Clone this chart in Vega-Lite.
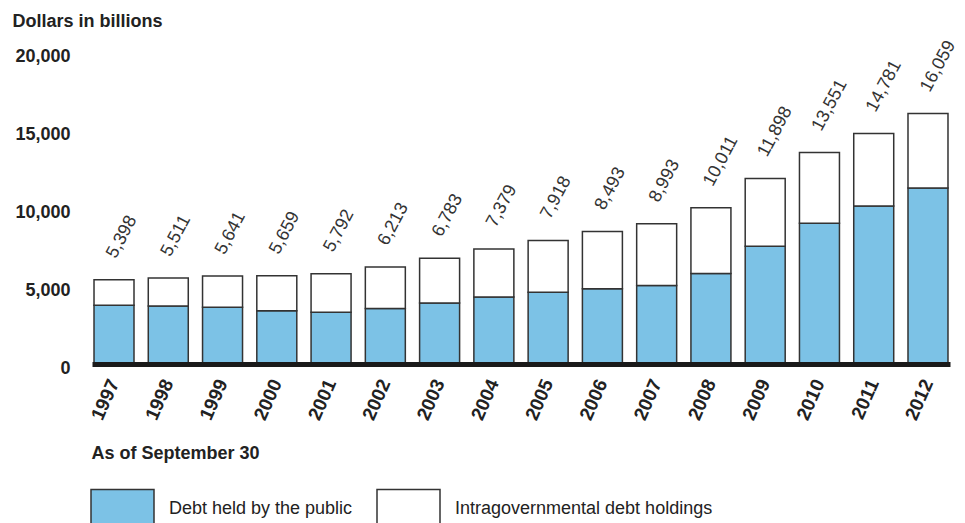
{
  "$schema": "https://vega.github.io/schema/vega-lite/v6.json",
  "width": 858,
  "height": 312,
  "autosize": {"type": "none"},
  "padding": {"left": 92, "top": 52, "right": 15, "bottom": 159},
  "background": "white",
  "config": {
    "view": {"stroke": null},
    "font": "Liberation Sans"
  },
  "data": {
    "values": [
      {"year": "1997", "holder": "Debt held by the public", "rank": 1, "amount": 3772},
      {"year": "1997", "holder": "Intragovernmental debt holdings", "rank": 2, "amount": 1626},
      {"year": "1998", "holder": "Debt held by the public", "rank": 1, "amount": 3721},
      {"year": "1998", "holder": "Intragovernmental debt holdings", "rank": 2, "amount": 1790},
      {"year": "1999", "holder": "Debt held by the public", "rank": 1, "amount": 3633},
      {"year": "1999", "holder": "Intragovernmental debt holdings", "rank": 2, "amount": 2008},
      {"year": "2000", "holder": "Debt held by the public", "rank": 1, "amount": 3410},
      {"year": "2000", "holder": "Intragovernmental debt holdings", "rank": 2, "amount": 2249},
      {"year": "2001", "holder": "Debt held by the public", "rank": 1, "amount": 3320},
      {"year": "2001", "holder": "Intragovernmental debt holdings", "rank": 2, "amount": 2472},
      {"year": "2002", "holder": "Debt held by the public", "rank": 1, "amount": 3553},
      {"year": "2002", "holder": "Intragovernmental debt holdings", "rank": 2, "amount": 2660},
      {"year": "2003", "holder": "Debt held by the public", "rank": 1, "amount": 3913},
      {"year": "2003", "holder": "Intragovernmental debt holdings", "rank": 2, "amount": 2870},
      {"year": "2004", "holder": "Debt held by the public", "rank": 1, "amount": 4296},
      {"year": "2004", "holder": "Intragovernmental debt holdings", "rank": 2, "amount": 3083},
      {"year": "2005", "holder": "Debt held by the public", "rank": 1, "amount": 4592},
      {"year": "2005", "holder": "Intragovernmental debt holdings", "rank": 2, "amount": 3326},
      {"year": "2006", "holder": "Debt held by the public", "rank": 1, "amount": 4829},
      {"year": "2006", "holder": "Intragovernmental debt holdings", "rank": 2, "amount": 3664},
      {"year": "2007", "holder": "Debt held by the public", "rank": 1, "amount": 5035},
      {"year": "2007", "holder": "Intragovernmental debt holdings", "rank": 2, "amount": 3958},
      {"year": "2008", "holder": "Debt held by the public", "rank": 1, "amount": 5803},
      {"year": "2008", "holder": "Intragovernmental debt holdings", "rank": 2, "amount": 4208},
      {"year": "2009", "holder": "Debt held by the public", "rank": 1, "amount": 7552},
      {"year": "2009", "holder": "Intragovernmental debt holdings", "rank": 2, "amount": 4346},
      {"year": "2010", "holder": "Debt held by the public", "rank": 1, "amount": 9019},
      {"year": "2010", "holder": "Intragovernmental debt holdings", "rank": 2, "amount": 4532},
      {"year": "2011", "holder": "Debt held by the public", "rank": 1, "amount": 10128},
      {"year": "2011", "holder": "Intragovernmental debt holdings", "rank": 2, "amount": 4653},
      {"year": "2012", "holder": "Debt held by the public", "rank": 1, "amount": 11281},
      {"year": "2012", "holder": "Intragovernmental debt holdings", "rank": 2, "amount": 4778}
    ]
  },
  "layer": [
    {
      "mark": {"type": "bar", "stroke": "#333333", "strokeWidth": 1.5},
      "encoding": {
        "x": {
          "field": "year",
          "type": "ordinal",
          "scale": {"paddingInner": 0.263, "paddingOuter": 0.037},
          "axis": {
            "title": "As of September 30",
            "titleX": -1,
            "titleY": 89,
            "titleAlign": "left",
            "titleAnchor": "start",
            "titleBaseline": "middle",
            "titleFontSize": 18,
            "titleFontWeight": "bold",
            "titleColor": "#222222",
            "labelAngle": -66,
            "labelAlign": "right",
            "labelBaseline": "middle",
            "labelFontSize": 19,
            "labelFontWeight": "bold",
            "labelColor": "#222222",
            "labelPadding": 16,
            "labelOverlap": false,
            "labelFlush": false,
            "ticks": false,
            "tickSize": 0,
            "domainColor": "#1a1a1a",
            "domainWidth": 5,
            "zindex": 1
          }
        },
        "y": {
          "field": "amount",
          "type": "quantitative",
          "stack": "zero",
          "scale": {"domain": [0, 20000], "nice": false},
          "axis": {
            "title": "Dollars in billions",
            "titleAngle": 0,
            "titleX": -80,
            "titleY": -31,
            "titleAlign": "left",
            "titleBaseline": "middle",
            "titleFontSize": 18,
            "titleFontWeight": "bold",
            "titleColor": "#222222",
            "values": [0, 5000, 10000, 15000, 20000],
            "format": ",.0f",
            "labelFontSize": 18,
            "labelFontWeight": "bold",
            "labelColor": "#222222",
            "labelPadding": 22,
            "labelOffset": 4,
            "ticks": false,
            "tickSize": 0,
            "domain": false,
            "grid": false
          }
        },
        "color": {
          "field": "holder",
          "type": "nominal",
          "scale": {
            "domain": ["Debt held by the public", "Intragovernmental debt holdings"],
            "range": ["#7cc2e6", "#ffffff"]
          },
          "legend": {
            "orient": "none",
            "legendX": -2,
            "legendY": 424,
            "direction": "horizontal",
            "columns": 2,
            "title": null,
            "padding": 0,
            "symbolType": "M-1,-0.62H1V0.62H-1Z",
            "symbolSize": 3969,
            "symbolStrokeColor": "#333333",
            "symbolStrokeWidth": 1.5,
            "symbolOpacity": 1,
            "labelFontSize": 18,
            "labelColor": "#222222",
            "labelOffset": 14,
            "labelLimit": 400,
            "columnPadding": 21
          }
        },
        "order": {"field": "rank", "type": "quantitative"}
      }
    },
    {
      "mark": {
        "type": "text",
        "angle": -62,
        "align": "left",
        "baseline": "middle",
        "dx": 19,
        "dy": -13,
        "fontSize": 18,
        "color": "#333333"
      },
      "encoding": {
        "x": {"field": "year", "type": "ordinal"},
        "y": {"aggregate": "sum", "field": "amount", "type": "quantitative"},
        "text": {"aggregate": "sum", "field": "amount", "type": "quantitative", "format": ","}
      }
    }
  ]
}
